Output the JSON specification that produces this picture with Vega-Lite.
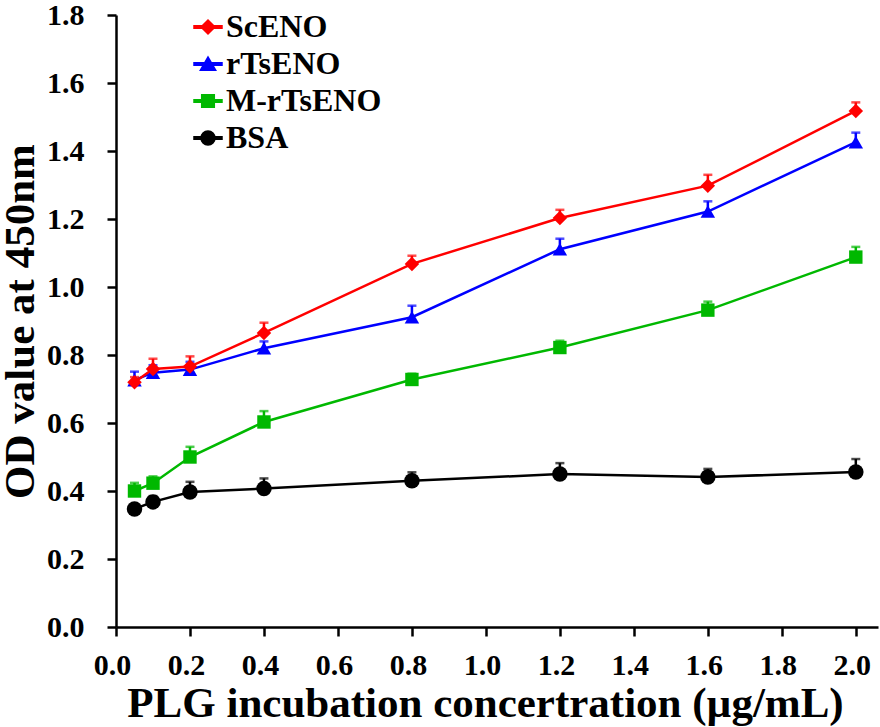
{
  "$schema": "https://vega.github.io/schema/vega-lite/v6.json",
  "width": 762,
  "height": 612,
  "autosize": {"type": "none"},
  "padding": {"left": 116, "top": 15, "right": 2, "bottom": 100},
  "background": "white",
  "config": {
    "view": {"stroke": null},
    "font": "Liberation Serif",
    "axis": {
      "labelFont": "Liberation Serif",
      "labelFontWeight": "bold",
      "labelFontSize": 30,
      "labelColor": "black",
      "titleFont": "Liberation Serif",
      "titleFontWeight": "bold",
      "titleFontSize": 43,
      "titleColor": "black",
      "domainColor": "black",
      "domainWidth": 2.5,
      "tickColor": "black",
      "tickWidth": 2.5,
      "tickSize": 9,
      "grid": false
    },
    "legend": {
      "labelFont": "Liberation Serif",
      "labelFontWeight": "bold",
      "labelFontSize": 32,
      "labelColor": "black"
    }
  },
  "data": {
    "values": [
      {"series": "BSA", "x": 0.05, "y": 0.347, "hi": 0.36},
      {"series": "BSA", "x": 0.1, "y": 0.368, "hi": 0.385},
      {"series": "BSA", "x": 0.2, "y": 0.397, "hi": 0.427},
      {"series": "BSA", "x": 0.4, "y": 0.407, "hi": 0.437},
      {"series": "BSA", "x": 0.8, "y": 0.43, "hi": 0.455},
      {"series": "BSA", "x": 1.2, "y": 0.45, "hi": 0.482},
      {"series": "BSA", "x": 1.6, "y": 0.441, "hi": 0.465},
      {"series": "BSA", "x": 2.0, "y": 0.456, "hi": 0.494},
      {"series": "M-rTsENO", "x": 0.05, "y": 0.4, "hi": 0.424},
      {"series": "M-rTsENO", "x": 0.1, "y": 0.423, "hi": 0.443},
      {"series": "M-rTsENO", "x": 0.2, "y": 0.5, "hi": 0.53},
      {"series": "M-rTsENO", "x": 0.4, "y": 0.603, "hi": 0.635},
      {"series": "M-rTsENO", "x": 0.8, "y": 0.728, "hi": 0.745},
      {"series": "M-rTsENO", "x": 1.2, "y": 0.822, "hi": 0.842},
      {"series": "M-rTsENO", "x": 1.6, "y": 0.932, "hi": 0.957},
      {"series": "M-rTsENO", "x": 2.0, "y": 1.088, "hi": 1.118},
      {"series": "rTsENO", "x": 0.05, "y": 0.726, "hi": 0.751},
      {"series": "rTsENO", "x": 0.1, "y": 0.748, "hi": 0.77},
      {"series": "rTsENO", "x": 0.2, "y": 0.757, "hi": 0.78},
      {"series": "rTsENO", "x": 0.4, "y": 0.82, "hi": 0.84},
      {"series": "rTsENO", "x": 0.8, "y": 0.911, "hi": 0.945},
      {"series": "rTsENO", "x": 1.2, "y": 1.111, "hi": 1.142},
      {"series": "rTsENO", "x": 1.6, "y": 1.222, "hi": 1.252},
      {"series": "rTsENO", "x": 2.0, "y": 1.426, "hi": 1.454},
      {"series": "ScENO", "x": 0.05, "y": 0.72, "hi": 0.735},
      {"series": "ScENO", "x": 0.1, "y": 0.759, "hi": 0.789},
      {"series": "ScENO", "x": 0.2, "y": 0.766, "hi": 0.796},
      {"series": "ScENO", "x": 0.4, "y": 0.865, "hi": 0.895},
      {"series": "ScENO", "x": 0.8, "y": 1.068, "hi": 1.092},
      {"series": "ScENO", "x": 1.2, "y": 1.203, "hi": 1.227},
      {"series": "ScENO", "x": 1.6, "y": 1.298, "hi": 1.33},
      {"series": "ScENO", "x": 2.0, "y": 1.518, "hi": 1.543}
    ]
  },
  "encoding": {
    "x": {
      "field": "x", "type": "quantitative",
      "scale": {"domain": [0, 2.06], "nice": false, "zero": false},
      "axis": {
        "title": "PLG incubation concertration (µg/mL)",
        "values": [0, 0.2, 0.4, 0.6, 0.8, 1.0, 1.2, 1.4, 1.6, 1.8, 2.0],
        "format": ".1f",
        "labelFont": "Liberation Serif",
        "labelFontWeight": "bold",
        "labelPadding": 14,
        "labelOffset": -4,
        "labelFlush": false,
        "titleX": 369,
        "titlePadding": 2
      }
    },
    "y": {
      "field": "y", "type": "quantitative",
      "scale": {"domain": [0, 1.8], "nice": false},
      "axis": {
        "title": "OD value at 450nm",
        "values": [0, 0.2, 0.4, 0.6, 0.8, 1.0, 1.2, 1.4, 1.6, 1.8],
        "format": ".1f",
        "labelFont": "Liberation Serif",
        "labelFontWeight": "bold",
        "labelPadding": 23,
        "titlePadding": 4
      }
    },
    "color": {
      "field": "series", "type": "nominal",
      "scale": {
        "domain": ["ScENO", "rTsENO", "M-rTsENO", "BSA"],
        "range": ["#FF0000", "#0000FF", "#00B800", "#000000"]
      },
      "legend": {
        "title": null,
        "orient": "none",
        "legendX": 76,
        "legendY": -4,
        "labelFontSize": 32,
        "labelOffset": 2,
        "rowPadding": 5,
        "symbolSize": 784,
        "symbolOpacity": 1
      }
    }
  },
  "layer": [
    {
      "mark": {"type": "line", "strokeWidth": 2.5},
      "encoding": {"detail": {"field": "series"}}
    },
    {
      "mark": {"type": "rule", "strokeWidth": 2.5},
      "encoding": {"y2": {"field": "hi"}}
    },
    {
      "mark": {"type": "tick", "orient": "horizontal", "size": 9, "thickness": 2.5},
      "encoding": {"y": {"field": "hi", "type": "quantitative"}}
    },
    {
      "mark": {"type": "point", "filled": true, "opacity": 0, "size": 784},
      "encoding": {
        "shape": {
          "field": "series", "type": "nominal",
          "scale": {
            "domain": ["ScENO", "rTsENO", "M-rTsENO", "BSA"],
            "range": [
              "M-1,-0.09L1,-0.09L1,0.09L-1,0.09ZM-0.5,0L0,-0.5L0.5,0L0,0.5Z",
              "M-1,-0.09L1,-0.09L1,0.09L-1,0.09ZM-0.55,0.45L0,-0.5L0.55,0.45Z",
              "M-1,-0.09L1,-0.09L1,0.09L-1,0.09ZM-0.45,-0.45L0.45,-0.45L0.45,0.45L-0.45,0.45Z",
              "M-1,-0.09L1,-0.09L1,0.09L-1,0.09ZM-0.5,0A0.5,0.5,0,1,1,0.5,0A0.5,0.5,0,1,1,-0.5,0Z"
            ]
          },
          "legend": {
            "title": null,
            "orient": "none",
            "legendX": 76,
            "legendY": -4,
            "labelFontSize": 32,
            "labelOffset": 2,
            "rowPadding": 5,
            "symbolSize": 784,
            "symbolOpacity": 1
          }
        }
      }
    },
    {
      "transform": [{"filter": "datum.series === 'BSA'"}],
      "mark": {"type": "point", "filled": true, "opacity": 1, "size": 240, "shape": "circle"}
    },
    {
      "transform": [{"filter": "datum.series === 'M-rTsENO'"}],
      "mark": {"type": "point", "filled": true, "opacity": 1, "size": 180, "shape": "square"}
    },
    {
      "transform": [{"filter": "datum.series === 'rTsENO'"}],
      "mark": {"type": "point", "filled": true, "opacity": 1, "size": 210, "shape": "triangle-up"}
    },
    {
      "transform": [{"filter": "datum.series === 'ScENO'"}],
      "mark": {"type": "point", "filled": true, "opacity": 1, "size": 210, "shape": "diamond"}
    }
  ]
}
